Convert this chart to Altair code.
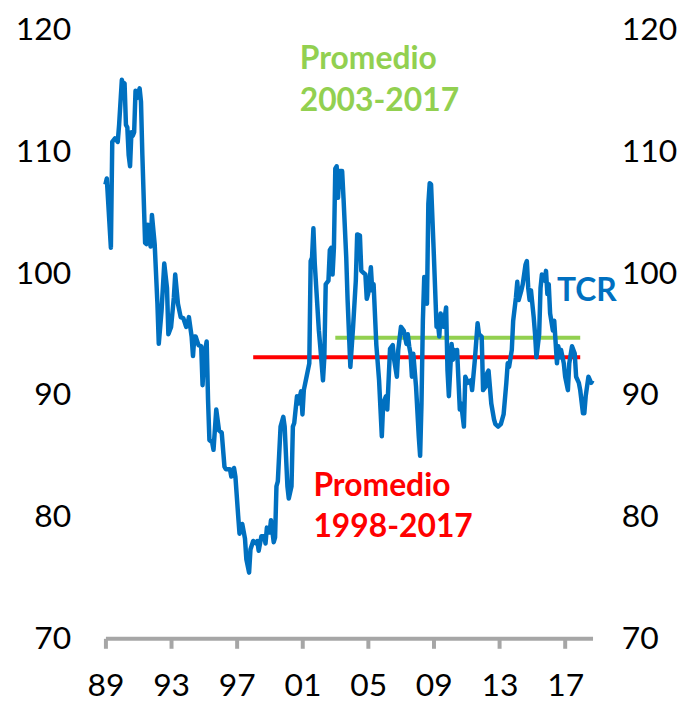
import altair as alt
import pandas as pd

dates = [
    "1989-01", "1989-02", "1989-05", "1989-06", "1989-08", "1989-10", "1989-11",
    "1990-01", "1990-02", "1990-03", "1990-04", "1990-05", "1990-06", "1990-07",
    "1990-08", "1990-09", "1990-10", "1990-11", "1990-12",
    "1991-02", "1991-03", "1991-04", "1991-06", "1991-07", "1991-08", "1991-10", "1991-11",
    "1992-01", "1992-03", "1992-04", "1992-06", "1992-08", "1992-10", "1992-11",
    "1993-01", "1993-03", "1993-04", "1993-06", "1993-08", "1993-10", "1993-12",
    "1994-01", "1994-02", "1994-04", "1994-05", "1994-06", "1994-07", "1994-09", "1994-11", "1994-12",
    "1995-01", "1995-03", "1995-04", "1995-05", "1995-07", "1995-08", "1995-10", "1995-12",
    "1996-02", "1996-04", "1996-05", "1996-08", "1996-09", "1996-11", "1996-12",
    "1997-02", "1997-03", "1997-05", "1997-07", "1997-08", "1997-10", "1997-11",
    "1998-01", "1998-03", "1998-04", "1998-05", "1998-07", "1998-09", "1998-10", "1998-11",
    "1999-01", "1999-02", "1999-04", "1999-05", "1999-06", "1999-07", "1999-09", "1999-11", "1999-12",
    "2000-02", "2000-03", "2000-05", "2000-06", "2000-07", "2000-09", "2000-10", "2000-12",
    "2001-01", "2001-02", "2001-04", "2001-06", "2001-07", "2001-08", "2001-09", "2001-10",
    "2002-01", "2002-02", "2002-04", "2002-05", "2002-06", "2002-08", "2002-09", "2002-10", "2002-11", "2002-12",
    "2003-01", "2003-02", "2003-03", "2003-04", "2003-06", "2003-07", "2003-09", "2003-10", "2003-12",
    "2004-02", "2004-04", "2004-05", "2004-07", "2004-08", "2004-11", "2004-12",
    "2005-01", "2005-03", "2005-04", "2005-05", "2005-07", "2005-09", "2005-11", "2005-12",
    "2006-02", "2006-03", "2006-05", "2006-07", "2006-08", "2006-10", "2006-11",
    "2007-01", "2007-03", "2007-05", "2007-06", "2007-07", "2007-08", "2007-09", "2007-10", "2007-12",
    "2008-02", "2008-03", "2008-04", "2008-05", "2008-06", "2008-07", "2008-08", "2008-09", "2008-10", "2008-11",
    "2009-01", "2009-03", "2009-04", "2009-05", "2009-06", "2009-08", "2009-10", "2009-11", "2009-12",
    "2010-02", "2010-03", "2010-04", "2010-05", "2010-06", "2010-08", "2010-09", "2010-11", "2010-12",
    "2011-02", "2011-04", "2011-05", "2011-07", "2011-09", "2011-10", "2011-12",
    "2012-01", "2012-03", "2012-04", "2012-05", "2012-07", "2012-09", "2012-10", "2012-12",
    "2013-02", "2013-04", "2013-06", "2013-07", "2013-08", "2013-10", "2013-11",
    "2014-01", "2014-02", "2014-03", "2014-05", "2014-06", "2014-08", "2014-09", "2014-10", "2014-11", "2014-12",
    "2015-02", "2015-03", "2015-04", "2015-06", "2015-07", "2015-08", "2015-10", "2015-11", "2015-12",
    "2016-01", "2016-02", "2016-04", "2016-05", "2016-07", "2016-08", "2016-09", "2016-10", "2016-12",
    "2017-01", "2017-03", "2017-04", "2017-06", "2017-08", "2017-09", "2017-11", "2017-12",
    "2018-02", "2018-03", "2018-04", "2018-05", "2018-06", "2018-08", "2018-09",
]
tcr = [
    107.3, 107.8, 102.1, 110.8, 111.1, 110.8, 112.2,
    115.9, 115.5, 115.6, 112.2, 112.0, 109.7, 108.8,
    111.6, 111.3, 111.6, 115.0, 114.4,
    115.2, 114.1, 109.7, 102.5, 102.4, 104.0, 102.2, 104.8,
    102.4, 97.5, 94.2, 96.9, 100.8, 98.8, 95.0,
    95.6, 98.0, 99.9, 97.5, 96.4, 96.3, 95.6,
    95.8, 96.4, 94.8, 93.2, 94.8, 94.8, 94.1, 94.0, 90.8,
    93.1, 94.4, 89.6, 86.3, 86.1, 85.5, 88.8, 87.1,
    86.9, 84.1, 83.9, 83.9, 83.3, 84.0, 83.3,
    80.1, 78.6, 79.4, 78.2, 76.5, 75.4, 77.3,
    78.0, 77.8, 78.0, 77.2, 78.4, 78.4, 77.8, 79.1,
    78.7, 79.7, 77.9, 78.3, 82.5, 82.9, 87.4, 88.2, 87.4,
    82.5, 81.5, 82.5, 87.4, 87.7, 89.9, 89.3, 90.3,
    88.4, 90.4, 91.5, 92.6, 101.0, 101.3, 103.7, 100.8,
    95.3, 94.0, 91.2, 93.1, 99.1, 99.4, 101.9, 102.1, 99.9, 102.1,
    108.6, 108.8, 106.2, 108.4, 108.4, 106.2, 101.3, 97.8, 92.3,
    95.6, 99.4, 103.2, 103.1, 100.2, 99.9, 97.9,
    98.3, 100.5, 98.6, 99.1, 94.1, 91.2, 86.6, 89.3,
    89.9, 88.8, 93.8, 94.1, 92.9, 91.5, 93.7,
    95.6, 95.3, 94.2, 95.0, 94.0, 93.4, 91.5, 93.4, 90.7,
    86.6, 85.0, 89.3, 96.1, 99.7, 98.8, 97.5, 105.7, 107.4, 107.3,
    101.6, 95.6, 95.9, 94.8, 96.7, 95.6, 97.2, 92.0, 89.9,
    94.2, 92.9, 93.7, 93.4, 93.7, 88.8, 89.3, 87.4, 91.5,
    91.0, 91.2, 90.4, 92.9, 95.9, 95.0, 94.8,
    90.4, 90.7, 91.8, 92.0, 89.3, 88.0, 87.6, 87.4,
    87.6, 88.4, 91.0, 92.6, 92.3, 93.7, 96.1,
    98.0, 99.3, 97.8, 98.6, 99.1, 100.7, 101.0, 98.8, 97.8, 98.6,
    96.4, 95.0, 93.1, 95.0, 98.8, 99.9, 99.4, 100.2, 98.3,
    99.1, 96.7, 95.3, 96.1, 92.6, 94.0, 93.1, 93.7, 92.6,
    91.5, 90.4, 92.6, 94.0, 93.4, 91.5, 91.0, 90.4,
    88.5, 88.5, 89.9, 90.7, 91.5, 91.0, 91.2,
]

# Averages
avg_names = ["Promedio 1998-2017", "Promedio 2003-2017"]
avg_start = ["1998-01", "2003-01"]
avg_end = ["2017-12", "2017-12"]
avg_value = [93.1, 94.7]
avg_colors = ["#FF0000", "#92D050"]

# Annotations
ann_text = ["Promedio", "2003-2017", "Promedio", "1998-2017", "TCR"]
ann_date = ["2000-11", "2000-11", "2001-09", "2001-09", "2016-07"]
ann_value = [116.8, 113.3, 81.7, 78.3, 97.7]
ann_colors = ["#92D050", "#92D050", "#FF0000", "#FF0000", "#0070C0"]

x_ticks = [1989, 1993, 1997, 2001, 2005, 2009, 2013, 2017]
y_ticks = [70, 80, 90, 100, 110, 120]


def to_year(s):
    y, m = s.split("-")
    return int(y) + (int(m) - 1) / 12


df = pd.DataFrame({"t": [to_year(d) for d in dates], "tcr": tcr})
avg_df = pd.DataFrame({
    "name": avg_names,
    "t0": [to_year(d) for d in avg_start],
    "t1": [to_year(d) for d in avg_end],
    "v": avg_value,
    "c": avg_colors,
})
ann_df = pd.DataFrame({
    "text": ann_text,
    "t": [to_year(d) for d in ann_date],
    "v": ann_value,
    "c": ann_colors,
})

FONT = "Lato"
GRAY = "#A6A6A6"
x_domain = [to_year(dates[0]), to_year(dates[-1])]
y_domain = [70, 120]

x_axis = alt.Axis(
    values=x_ticks,
    labelExpr="format(datum.value % 100, '02d')",
    domainColor=GRAY, domainWidth=4,
    tickColor=GRAY, tickWidth=4, tickSize=10,
    labelFont=FONT, labelFontSize=32, labelColor="black",
    labelPadding=22, labelFlush=False, labelOverlap=False,
    grid=False, title=None,
)
x_scale = alt.Scale(domain=x_domain, nice=False, zero=False)
y_scale = alt.Scale(domain=y_domain, nice=False, zero=False)

line = alt.Chart(df).mark_line(color="#0070C0", strokeWidth=4.5, strokeJoin="round").encode(
    x=alt.X("t:Q", scale=x_scale, axis=x_axis),
    y=alt.Y("tcr:Q", scale=y_scale,
            axis=alt.Axis(values=y_ticks, orient="left", domain=False, ticks=False,
                          labelFont=FONT, labelFontSize=32, labelColor="black",
                          labelPadding=35, grid=False, title=None)),
)

rules = alt.Chart(avg_df).mark_rule(strokeWidth=4).encode(
    x=alt.X("t0:Q", scale=x_scale, axis=x_axis),
    x2="t1:Q",
    y=alt.Y("v:Q", scale=y_scale,
            axis=alt.Axis(values=y_ticks, orient="right", domain=False, ticks=False,
                          labelFont=FONT, labelFontSize=32, labelColor="black",
                          labelPadding=29, grid=False, title=None)),
    color=alt.Color("c:N", scale=None),
)

texts = alt.Chart(ann_df).mark_text(
    font=FONT, fontWeight="bold", fontSize=32, align="left", baseline="alphabetic"
).encode(
    x=alt.X("t:Q", scale=x_scale, axis=x_axis),
    y=alt.Y("v:Q", scale=y_scale, axis=None),
    text="text:N",
    color=alt.Color("c:N", scale=None),
)

chart = (
    alt.layer(rules, line, texts)
    .resolve_scale(y="independent")
    .properties(
        width=490,
        height=612,
        autosize=alt.AutoSizeParams(type="none"),
        padding={"left": 98, "top": 20, "right": 90, "bottom": 70},
        view=alt.ViewBackground(stroke="transparent", strokeWidth=0, strokeOpacity=0),
    )
    .configure_view(stroke="transparent", strokeWidth=0, strokeOpacity=0)
    .configure_axis(grid=False)
    .configure_axisY(domain=False, ticks=False, grid=False)
    .configure(background="white")
)

chart.save("out.html", embed_options={"renderer": "svg", "actions": False})
